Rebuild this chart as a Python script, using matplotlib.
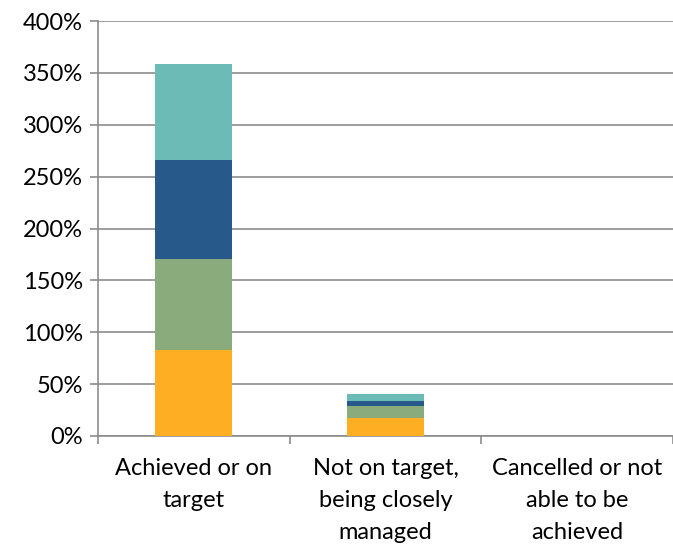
import matplotlib.pyplot as plt
import numpy as np

categories = ['Achieved or on\ntarget', 'Not on target,\nbeing closely\nmanaged', 'Cancelled or not\nable to be\nachieved']
s1 = [0.83, 0.17, 0.0]
s2 = [0.88, 0.12, 0.0]
s3 = [0.95, 0.045, 0.0]
s4 = [0.93, 0.07, 0.0]
colors = ['#FDAE23', '#8AAC7D', '#27598A', '#6CBBB6']

plt.rcParams['font.family'] = ['Lato', 'DejaVu Sans']

fig = plt.figure(figsize=(6.73, 5.5), dpi=100)
ax = fig.add_axes([98/673, 1 - 436/550, 575/673, 415/550])

x = np.arange(len(categories))
bottom = np.zeros(len(categories))
for vals, c in zip([s1, s2, s3, s4], colors):
    ax.bar(x, vals, 0.4, bottom=bottom, color=c, zorder=3)
    bottom += np.array(vals)

ax.set_xlim(-0.5, 2.5)
ax.set_ylim(0, 4)
ax.set_yticks(np.arange(0, 4.01, 0.5))
ax.set_yticklabels([f'{int(v*100)}%' for v in np.arange(0, 4.01, 0.5)], fontsize=17)
ax.yaxis.grid(True, color='#8c8c8c', linewidth=1.2, zorder=0)
ax.tick_params(axis='y', length=6, color='#8c8c8c', width=1.2, pad=5)

ax.set_xticks([-0.5, 0.5, 1.5, 2.5])
ax.set_xticklabels([])
ax.set_xticks(x, minor=True)
ax.set_xticklabels(categories, minor=True, fontsize=17, linespacing=1.65)
ax.tick_params(axis='x', which='minor', length=0, pad=16)
ax.tick_params(axis='x', which='major', length=6, color='#8c8c8c', width=1.2)

for sp in ['top', 'right']:
    ax.spines[sp].set_visible(False)
for sp in ['left', 'bottom']:
    ax.spines[sp].set_color('#8c8c8c')
    ax.spines[sp].set_linewidth(1.2)

fig.savefig('out.png', dpi=100)
